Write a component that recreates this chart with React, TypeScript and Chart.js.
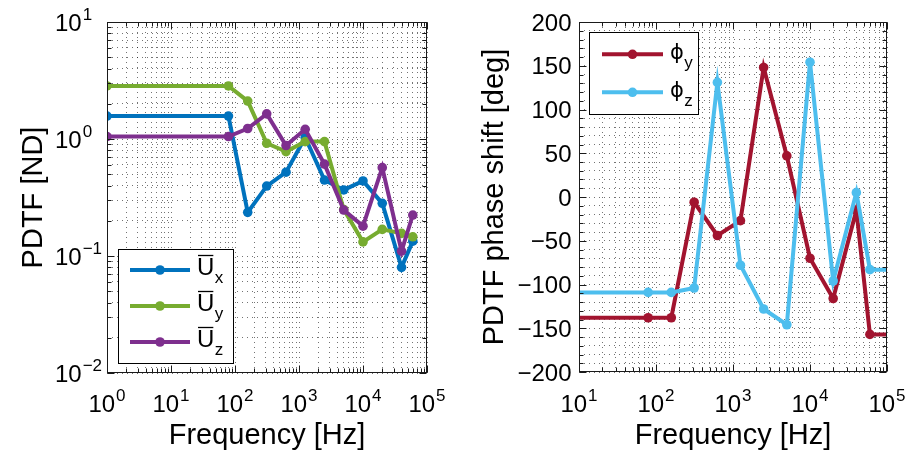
import React, { useEffect, useRef } from "react";
import { Chart, registerables } from "chart.js";
Chart.register(...registerables);

// ---------- data ----------
const freqHz = [1, 79, 158, 313, 627, 1250, 2500, 5000, 10000, 20000, 40000, 60000];
const uxValues = [1.57, 1.57, 0.236, 0.396, 0.52, 1.03, 0.446, 0.367, 0.438, 0.282, 0.08, 0.134];
const uyValues = [2.84, 2.84, 2.11, 0.92, 0.78, 0.95, 0.95, 0.25, 0.132, 0.169, 0.156, 0.146];
const uzValues = [1.05, 1.05, 1.23, 1.64, 0.88, 1.21, 0.61, 0.247, 0.18, 0.569, 0.11, 0.224];

const phaseFreqHz = [1, 79, 158, 313, 627, 1250, 2500, 5000, 10000, 20000, 40000, 60000, 100000];
const phiYValues = [-138, -138, -138, -6, -44, -27, 148, 47, -70, -116, -15, -157, -157];
const phiZValues = [-109, -109, -109, -104, 131, -78, -128, -146, 154, -96, 5, -83, -83];

const leftXExponents = [0, 1, 2, 3, 4, 5];
const leftYExponents = [-2, -1, 0, 1];
const rightXExponents = [1, 2, 3, 4, 5];
const rightYLabels = [-200, -150, -100, -50, 0, 50, 100, 150, 200];

const leftLegendSubs = ["x", "y", "z"];
const rightLegendSubs = ["y", "z"];

const colUx = "#0072BD";
const colUy = "#77AC30";
const colUz = "#7E2F8E";
const colPhiY = "#A2142F";
const colPhiZ = "#4DBEEE";

const FONT = '"Liberation Sans", Arial, Helvetica, sans-serif';
const GRID_COLOR = "rgba(0,0,0,0.55)";

// ---------- helpers ----------
function logTicks(minExp: number, maxExp: number) {
  const out: any[] = [];
  for (let e = minExp; e < maxExp; e++) {
    for (let m = 1; m < 10; m++) out.push({ value: m * Math.pow(10, e), major: m === 1 });
  }
  out.push({ value: Math.pow(10, maxExp), major: true });
  return out;
}
function linTicks(min: number, max: number, step: number, majorStep: number) {
  const out: any[] = [];
  for (let v = min; v <= max; v += step) out.push({ value: v, major: v % majorStep === 0 });
  return out;
}
function expText(e: number) {
  return e < 0 ? "\u2212" + String(-e) : String(e);
}

function drawPow(ctx: any, e: number, x: number, baseline: number, mode: "center" | "left") {
  const base = "10";
  const ex = expText(e);
  ctx.font = `24px ${FONT}`;
  const wb = ctx.measureText(base).width;
  ctx.font = `17px ${FONT}`;
  const we = ctx.measureText(ex).width;
  const start = mode === "center" ? x - (wb + we + 1) / 2 : x;
  ctx.textAlign = "left";
  ctx.textBaseline = "alphabetic";
  ctx.font = `24px ${FONT}`;
  ctx.fillText(base, start, baseline);
  ctx.font = `17px ${FONT}`;
  ctx.fillText(ex, start + wb + 1, baseline - 11);
}

function drawLegend(ctx: any, lg: any, datasets: any[]) {
  ctx.save();
  ctx.fillStyle = "#fff";
  ctx.fillRect(lg.x0, lg.y0, lg.x1 - lg.x0, lg.y1 - lg.y0);
  ctx.strokeStyle = "#000";
  ctx.lineWidth = 1;
  ctx.strokeRect(Math.round(lg.x0) + 0.5, Math.round(lg.y0) + 0.5, Math.round(lg.x1 - lg.x0), Math.round(lg.y1 - lg.y0));
  lg.subs.forEach((sub: string, i: number) => {
    const ds = datasets[i];
    const y = lg.rowY[i];
    ctx.strokeStyle = ds.borderColor;
    ctx.lineWidth = 4;
    ctx.beginPath();
    ctx.moveTo(lg.lineX0, y);
    ctx.lineTo(lg.lineX1, y);
    ctx.stroke();
    ctx.fillStyle = ds.borderColor;
    ctx.beginPath();
    ctx.arc((lg.lineX0 + lg.lineX1) / 2, y, 4.8, 0, Math.PI * 2);
    ctx.fill();
    ctx.fillStyle = "#000";
    ctx.textAlign = "left";
    ctx.textBaseline = "alphabetic";
    ctx.font = `${lg.mainSize}px ${lg.mainFont || FONT}`;
    const wm = ctx.measureText(lg.main).width;
    ctx.fillText(lg.main, lg.textX, y + lg.mainDy);
    if (lg.overbar) {
      ctx.strokeStyle = "#000";
      ctx.lineWidth = 1.3;
      ctx.beginPath();
      ctx.moveTo(lg.textX + 1, y + lg.mainDy - 19.5);
      ctx.lineTo(lg.textX + wm - 1, y + lg.mainDy - 19.5);
      ctx.stroke();
    }
    ctx.font = `17px ${FONT}`;
    ctx.fillText(sub, lg.textX + wm + 0.5, y + lg.subDy);
  });
  ctx.restore();
}

function makeOverlay(cfg: any) {
  return {
    id: "overlay",
    afterDraw(chart: any) {
      const ctx = chart.ctx;
      const a = chart.chartArea;
      const xs = chart.scales.x;
      const ys = chart.scales.y;
      ctx.save();
      ctx.strokeStyle = "#1a1a1a";
      ctx.lineWidth = 1;
      const L = Math.round(a.left) + 0.5;
      const R = Math.round(a.right) - 0.5;
      const T = Math.round(a.top) + 0.5;
      const B = Math.round(a.bottom) - 0.5;
      ctx.beginPath();
      for (const t of cfg.xTicks) {
        const px = Math.round(xs.getPixelForValue(t.value)) + 0.5;
        const len = t.major ? 7 : 4;
        ctx.moveTo(px, B);
        ctx.lineTo(px, B - len);
        ctx.moveTo(px, T);
        ctx.lineTo(px, T + len);
      }
      for (const t of cfg.yTicks) {
        const py = Math.round(ys.getPixelForValue(t.value)) + 0.5;
        const len = t.major ? 7 : 4;
        ctx.moveTo(L, py);
        ctx.lineTo(L + len, py);
        ctx.moveTo(R, py);
        ctx.lineTo(R - len, py);
      }
      ctx.stroke();
      ctx.strokeRect(L, T, R - L, B - T);

      ctx.fillStyle = "#000";
      for (const e of cfg.xExps) {
        drawPow(ctx, e, xs.getPixelForValue(Math.pow(10, e)), 412, "center");
      }
      if (cfg.yLog) {
        for (const e of cfg.yExps) {
          drawPow(ctx, e, cfg.yLabelX, ys.getPixelForValue(Math.pow(10, e)) + 8.5, "left");
        }
      } else {
        ctx.font = `24px ${FONT}`;
        ctx.textAlign = "right";
        ctx.textBaseline = "alphabetic";
        for (const v of cfg.yLabels) {
          const s = v < 0 ? "\u2212" + String(-v) : String(v);
          ctx.fillText(s, cfg.yLabelX, ys.getPixelForValue(v) + 8.5);
        }
      }
      ctx.font = `29px ${FONT}`;
      ctx.textAlign = "center";
      ctx.textBaseline = "alphabetic";
      ctx.fillText(cfg.xTitle, (a.left + a.right) / 2, 444);
      ctx.save();
      ctx.translate(cfg.yTitleX, (a.top + a.bottom) / 2);
      ctx.rotate(-Math.PI / 2);
      ctx.fillText(cfg.yTitle, 0, 0);
      ctx.restore();
      ctx.restore();
      drawLegend(ctx, cfg.legend, chart.data.datasets);
    },
  };
}

function ds(xs: number[], ys: number[], color: string, order: number, extra: any = {}) {
  return {
    data: xs.map((x, i) => ({ x, y: ys[i] })),
    borderColor: color,
    backgroundColor: color,
    pointBackgroundColor: color,
    pointBorderWidth: 0,
    pointRadius: 4.8,
    pointHoverRadius: 4.8,
    borderWidth: 4,
    showLine: true,
    tension: 0,
    order,
    ...extra,
  };
}

function scaleOpts(type: string, min: number, max: number, ticks: any[], fit: any) {
  return {
    type,
    min,
    max,
    afterBuildTicks: (s: any) => {
      s.ticks = ticks.map((t) => ({ value: t.value }));
    },
    afterFit: fit,
    ticks: { display: false },
    grid: { color: GRID_COLOR, lineWidth: 1, drawTicks: false },
    border: { display: false, dash: [1, 4] },
  };
}

function useChart(ref: any, build: () => any) {
  useEffect(() => {
    const chart = new Chart(ref.current, build());
    return () => chart.destroy();
  }, []);
}

export default function App() {
  const leftRef = useRef<HTMLCanvasElement>(null);
  const rightRef = useRef<HTMLCanvasElement>(null);

  useChart(leftRef, () => {
    const xTicks = logTicks(0, 5);
    const yTicks = logTicks(-2, 1);
    return {
      type: "scatter",
      data: {
        datasets: [
          ds(freqHz, uxValues, colUx, 3),
          ds(freqHz, uyValues, colUy, 2),
          ds(freqHz, uzValues, colUz, 1),
        ],
      },
      options: {
        animation: false,
        responsive: false,
        events: [],
        layout: { padding: { left: 0, top: 22, right: 26, bottom: 0 } },
        plugins: { legend: { display: false }, tooltip: { enabled: false } },
        scales: {
          x: scaleOpts("logarithmic", 1, 1e5, xTicks, (s: any) => { s.height = 80; }),
          y: scaleOpts("logarithmic", 0.01, 10, yTicks, (s: any) => { s.width = 107; }),
        },
      },
      plugins: [
        makeOverlay({
          xTicks,
          yTicks,
          xExps: leftXExponents,
          yExps: leftYExponents,
          yLog: true,
          yLabelX: 55,
          xTitle: "Frequency [Hz]",
          yTitle: "PDTF [ND]",
          yTitleX: 41.5,
          legend: {
            x0: 118, y0: 249, x1: 233, y1: 363,
            rowY: [270, 306, 342],
            lineX0: 130, lineX1: 190,
            textX: 197,
            main: "U", mainSize: 24, overbar: true, mainDy: 5, subDy: 13,
            subs: leftLegendSubs,
          },
        }),
      ],
    };
  });

  useChart(rightRef, () => {
    const xTicks = logTicks(1, 5);
    const yTicks = linTicks(-200, 200, 10, 50);
    const clip = { left: 0, right: 0, top: 8, bottom: 8 };
    return {
      type: "scatter",
      data: {
        datasets: [
          ds(phaseFreqHz, phiYValues, colPhiY, 2, { clip, pointRadius: phaseFreqHz.map((f) => (f < 10 || f >= 1e5 ? 0 : 4.8)) }),
          ds(phaseFreqHz, phiZValues, colPhiZ, 1, { clip, pointRadius: phaseFreqHz.map((f) => (f < 10 || f >= 1e5 ? 0 : 4.8)) }),
        ],
      },
      options: {
        animation: false,
        responsive: false,
        events: [],
        layout: { padding: { left: 0, top: 22, right: 20, bottom: 0 } },
        plugins: { legend: { display: false }, tooltip: { enabled: false } },
        scales: {
          x: scaleOpts("logarithmic", 10, 1e5, xTicks, (s: any) => { s.height = 81; }),
          y: scaleOpts("linear", -200, 200, yTicks, (s: any) => { s.width = 126; }),
        },
      },
      plugins: [
        makeOverlay({
          xTicks,
          yTicks,
          xExps: rightXExponents,
          yLabels: rightYLabels,
          yLog: false,
          yLabelX: 118.5,
          xTitle: "Frequency [Hz]",
          yTitle: "PDTF phase shift [deg]",
          yTitleX: 50,
          legend: {
            x0: 136, y0: 32, x1: 245, y1: 114,
            rowY: [54.3, 92.3],
            lineX0: 149, lineX1: 210,
            textX: 217,
            main: "\u03D5", mainSize: 21, mainFont: '"DejaVu Sans", sans-serif', overbar: false, mainDy: 5, subDy: 14,
            subs: rightLegendSubs,
          },
        }),
      ],
    };
  });

  return (
    <div style={{ position: "absolute", left: 0, top: 0, width: 907, height: 453, background: "#fff" }}>
      <canvas ref={leftRef} width={453} height={453} style={{ position: "absolute", left: 0, top: 0, display: "block" }} />
      <canvas ref={rightRef} width={454} height={453} style={{ position: "absolute", left: 453, top: 0, display: "block" }} />
    </div>
  );
}
